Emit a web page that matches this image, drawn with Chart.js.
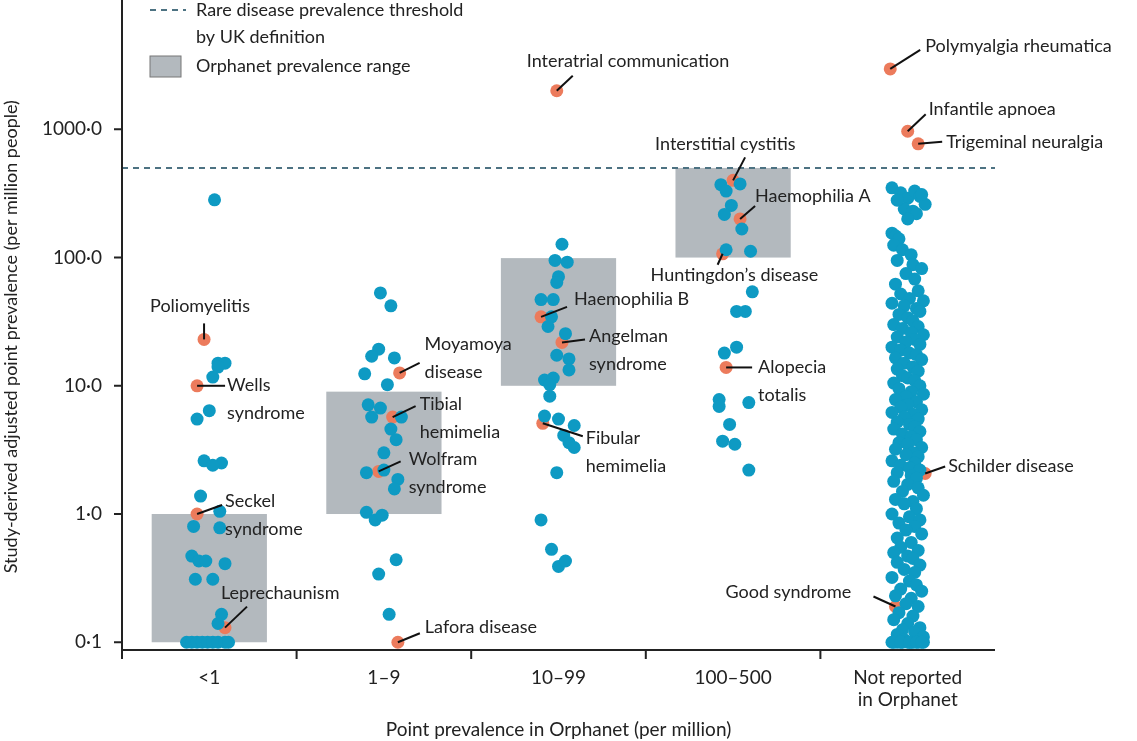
<!DOCTYPE html>
<html>
<head>
<meta charset="utf-8">
<script src="https://cdn.jsdelivr.net/npm/chart.js@4"></script>
<style>
  html, body { margin: 0; padding: 0; background: #fff; }
  #wrap { width: 1137px; height: 741px; }
</style>
</head>
<body>
<div id="wrap"><canvas id="chart"></canvas></div>
<script>
const categories = ['<1', '1–9', '10–99', '100–500', ['Not reported', 'in Orphanet']];
const yTickValues = [0.1, 1, 10, 100, 1000];
const yTickLabels = ['0·1', '1·0', '10·0', '100·0', '1000·0'];
const threshold = 500;

// Orphanet ranges per category [low, high]
const orphanetRanges = [[0.1, 1], [1, 9], [10, 99], [100, 500]];

// jitter offsets (x) and prevalence (y), per category
const cat0X = [0.03, 0.05, 0.09, 0.02, 0.05, 0.0, -0.07, -0.03, 0.07, 0.02, -0.05, 0.06, -0.09, 0.06, -0.1, -0.06, -0.02, 0.09, -0.08, 0.02, 0.07, 0.05, -0.13, -0.1, -0.07, -0.04, -0.01, 0.02, 0.05, 0.09, 0.11];
const cat0Y = [282, 15, 15, 11.7, 14, 6.4, 5.5, 2.6, 2.5, 2.4, 1.38, 1.05, 0.8, 0.78, 0.47, 0.43, 0.43, 0.41, 0.31, 0.31, 0.165, 0.14, 0.1, 0.1, 0.1, 0.1, 0.1, 0.1, 0.1, 0.1, 0.1];
const cat1X = [-0.02, 0.04, -0.03, -0.07, 0.06, -0.11, 0.02, -0.09, -0.02, -0.07, 0.1, 0.04, 0.07, 0.0, -0.1, 0.0, 0.08, 0.06, -0.1, -0.05, -0.01, 0.07, -0.03, 0.03];
const cat1Y = [53, 42, 19.3, 17, 16.5, 12.4, 10.2, 7.1, 6.7, 5.7, 5.7, 4.6, 3.8, 3.0, 2.1, 2.2, 1.86, 1.57, 1.03, 0.9, 0.98, 0.44, 0.34, 0.165];
const cat2X = [0.02, -0.02, 0.05, 0.0, -0.01, -0.1, -0.03, -0.04, -0.06, 0.04, -0.01, 0.06, 0.06, -0.08, -0.03, -0.05, -0.05, -0.08, 0.0, 0.09, 0.03, 0.06, 0.09, -0.01, -0.1, -0.04, 0.0, 0.04];
const cat2Y = [127, 95, 92, 71, 64, 47, 47, 34.5, 29, 25.5, 17.3, 16.2, 13.3, 11.1, 11.5, 10.2, 8.3, 5.8, 5.5, 4.9, 4.1, 3.6, 3.3, 2.1, 0.9, 0.53, 0.39, 0.43];
const cat3X = [-0.07, 0.04, -0.04, -0.01, -0.05, 0.05, -0.04, 0.1, 0.11, 0.02, 0.07, 0.02, -0.05, -0.08, -0.08, 0.09, -0.02, -0.06, 0.01, 0.09];
const cat3Y = [370, 375, 330, 255, 217, 167, 115, 112, 54, 38, 38, 20, 18, 7.8, 6.9, 7.4, 5.0, 3.7, 3.5, 2.2];
const cat4X = [-0.09, -0.04, 0.0, 0.04, 0.07, 0.1, -0.02, 0.03, 0.08, -0.06, 0.05, 0.0,
  -0.09, -0.07, -0.05, -0.08, -0.03, 0.02, -0.06, 0.03, 0.08, -0.01, 0.04, -0.07, 0.06, -0.04, 0.01, 0.09, -0.09, -0.02, 0.05, 0.07,
  -0.05, 0.0, 0.03, -0.08, 0.06, -0.03, 0.02, 0.09, -0.06, 0.04, -0.01, 0.07, -0.09, -0.04, 0.01, 0.05, -0.07, 0.08, -0.02, 0.03,
  -0.06, 0.06, -0.03, 0.0, 0.04, -0.08, 0.07, -0.05, 0.02, 0.09, -0.01, -0.07, 0.05, 0.0, -0.04, 0.08, -0.09, 0.03, -0.02, 0.06,
  -0.06, 0.01, 0.04, -0.08, 0.07, -0.03, 0.02, 0.05, -0.05, 0.0, 0.08, -0.07, 0.03, -0.01, 0.06, -0.09, 0.04, -0.04, 0.01, 0.07,
  -0.06, 0.02, 0.05, -0.08, 0.0, 0.06, -0.03, 0.09, -0.07, 0.03, -0.02, 0.05, -0.09, 0.01, 0.07, -0.05, 0.04, -0.01, 0.08, -0.06,
  0.02, -0.04, 0.06, -0.08, 0.0, 0.03, -0.06, 0.07, -0.02, 0.04, -0.09, 0.01, 0.05, -0.04, 0.08, -0.07, 0.02, -0.01, 0.06, -0.05,
  0.03, -0.08, 0.0, 0.07, -0.03, 0.04, -0.06, 0.09, -0.02, 0.02, -0.09, -0.06, -0.03, 0.0, 0.03, 0.06, 0.09, -0.08, -0.04, 0.01, 0.05, 0.08];
const cat4Y = [350, 320, 290, 330, 300, 260, 240, 230, 310, 280, 220, 200,
  155, 148, 140, 125, 115, 105, 95, 88, 82, 75, 68, 62, 55, 52, 48, 46, 44, 42, 40, 38,
  36, 34, 32, 30, 29, 28, 26, 25, 24, 23, 22, 21, 20, 19, 18, 17.5, 16.5, 16, 15, 14,
  13.5, 13, 12, 11.5, 11, 10.5, 10, 9.5, 9, 8.6, 8.2, 7.8, 7.5, 7.1, 6.8, 6.5, 6.2, 6.0, 5.7, 5.5,
  5.2, 5.0, 4.8, 4.6, 4.4, 4.2, 4.0, 3.8, 3.6, 3.5, 3.3, 3.2, 3.0, 2.9, 2.8, 2.6, 2.5, 2.4, 2.3, 2.2,
  2.1, 2.0, 1.9, 1.8, 1.7, 1.6, 1.5, 1.4, 1.3, 1.25, 1.2, 1.1, 1.0, 0.95, 0.9, 0.85, 0.8, 0.75, 0.7, 0.65,
  0.6, 0.55, 0.52, 0.5, 0.47, 0.45, 0.42, 0.4, 0.37, 0.35, 0.32, 0.3, 0.28, 0.26, 0.25, 0.23, 0.22, 0.2, 0.19, 0.17,
  0.16, 0.15, 0.14, 0.13, 0.125, 0.12, 0.115, 0.11, 0.105, 0.1, 0.1, 0.1, 0.1, 0.1, 0.1, 0.1, 0.1, 0.1, 0.1, 0.1, 0.1, 0.1];

// highlighted diseases: category, jitter, prevalence
const highlightNames = ['Poliomyelitis', 'Wells syndrome', 'Seckel syndrome', 'Leprechaunism',
  'Moyamoya disease', 'Tibial hemimelia', 'Wolfram syndrome', 'Lafora disease',
  'Interatrial communication', 'Haemophilia B', 'Angelman syndrome', 'Fibular hemimelia',
  'Interstitial cystitis', 'Haemophilia A', "Huntingdon's disease", 'Alopecia totalis',
  'Polymyalgia rheumatica', 'Infantile apnoea', 'Trigeminal neuralgia', 'Schilder disease', 'Good syndrome'];
const highlightX = [-0.03, -0.07, -0.07, 0.09, 0.09, 0.05, -0.03, 0.08, -0.01, -0.1, 0.02, -0.09, 0.0, 0.04, -0.06, -0.04, -0.1, 0.0, 0.06, 0.1, -0.07];
const highlightCat = [0, 0, 0, 0, 1, 1, 1, 1, 2, 2, 2, 2, 3, 3, 3, 3, 4, 4, 4, 4, 4];
const highlightY = [23, 10, 1.0, 0.13, 12.6, 5.7, 2.15, 0.1, 2000, 34.5, 21.8, 5.1, 400, 200, 107, 13.9, 2960, 966, 771, 2.07, 0.19];

// label layout: text lines, text offset from point (px), leader end offset
const labelLines = [['Poliomyelitis'], ['Wells', 'syndrome'], ['Seckel', 'syndrome'], ['Leprechaunism'],
  ['Moyamoya', 'disease'], ['Tibial', 'hemimelia'], ['Wolfram', 'syndrome'], ['Lafora disease'],
  ['Interatrial communication'], ['Haemophilia B'], ['Angelman', 'syndrome'], ['Fibular', 'hemimelia'],
  ['Interstitial cystitis'], ['Haemophilia A'], ['Huntingdon’s disease'], ['Alopecia', 'totalis'],
  ['Polymyalgia rheumatica'], ['Infantile apnoea'], ['Trigeminal neuralgia'], ['Schilder disease'], ['Good syndrome']];
const labelText = [[-54, -33], [30, -1], [28, -13], [-4, -34], [25, -29], [27, -13], [30, -12], [27, -15],
  [-30, -30], [33, -18], [27, -6], [43, 15], [-78, -36], [15, -23], [-72, 21], [32, 0],
  [35, -23], [21, -22], [28, -2], [23, -7], [-170, -14]];
const labelLead = [[0, -16], [28, 0], [25, -9], [22, -21], [20, -10], [23, -11], [22, -10], [22, -9],
  [16, -15], [26, -10], [23, -3], [40, 13], [12, -23], [15, -13], [-5, 11], [26, 0],
  [30, -19], [18, -17], [24, -2], [20, -7], [-22, -10]];

const blue = '#0e9ac3';
const orange = '#ec7b5c';
const fontFamily = 'Lato, "Noto Sans", sans-serif';

function pts(cat, xs, ys) {
  return ys.map((y, i) => ({ x: cat + xs[i], y: y }));
}

const bluePoints = [].concat(pts(0, cat0X, cat0Y), pts(1, cat1X, cat1Y), pts(2, cat2X, cat2Y), pts(3, cat3X, cat3Y), pts(4, cat4X, cat4Y));
const orangePoints = highlightY.map((y, i) => ({ x: highlightCat[i] + highlightX[i], y: y }));

const backgroundPlugin = {
  id: 'background',
  beforeDatasetsDraw(chart) {
    const { ctx, chartArea, scales: { x, y } } = chart;
    ctx.save();
    ctx.fillStyle = '#b3b9be';
    orphanetRanges.forEach((r, i) => {
      const x0 = x.getPixelForValue(i - 0.33), x1 = x.getPixelForValue(i + 0.33);
      const y0 = y.getPixelForValue(r[1]), y1 = y.getPixelForValue(r[0]);
      ctx.fillRect(x0, y0, x1 - x0, y1 - y0);
    });
    // threshold
    const ty = y.getPixelForValue(threshold);
    ctx.strokeStyle = '#4d7282';
    ctx.lineWidth = 2;
    ctx.setLineDash([6, 5]);
    ctx.beginPath();
    ctx.moveTo(chartArea.left, ty);
    ctx.lineTo(chartArea.right, ty);
    ctx.stroke();
    ctx.setLineDash([]);
    // axes and ticks
    ctx.strokeStyle = '#222';
    ctx.lineWidth = 2;
    ctx.beginPath();
    ctx.moveTo(chartArea.left, 0);
    ctx.lineTo(chartArea.left, chartArea.bottom);
    ctx.lineTo(chartArea.right, chartArea.bottom);
    yTickValues.forEach(v => {
      const py = y.getPixelForValue(v);
      ctx.moveTo(chartArea.left - 8, py);
      ctx.lineTo(chartArea.left, py);
    });
    for (let i = 0; i <= 4; i++) {
      const px = x.getPixelForValue(i - 0.5);
      ctx.moveTo(px, chartArea.bottom);
      ctx.lineTo(px, chartArea.bottom + 9);
    }
    ctx.stroke();
    ctx.restore();
  },
  afterDatasetsDraw(chart) {
    const { ctx, scales: { x, y } } = chart;
    ctx.save();
    ctx.font = '18px ' + fontFamily;
    ctx.fillStyle = '#222';
    ctx.strokeStyle = '#111';
    ctx.lineWidth = 2;
    ctx.textBaseline = 'middle';
    highlightY.forEach((v, i) => {
      const px = x.getPixelForValue(highlightCat[i] + highlightX[i]);
      const py = y.getPixelForValue(v);
      ctx.beginPath();
      ctx.moveTo(px, py);
      ctx.lineTo(px + labelLead[i][0], py + labelLead[i][1]);
      ctx.stroke();
      labelLines[i].forEach((t, j) => {
        ctx.fillText(t, px + labelText[i][0], py + labelText[i][1] + j * 28);
      });
    });
    // legend
    ctx.strokeStyle = '#4d7282';
    ctx.setLineDash([6, 5]);
    ctx.beginPath();
    ctx.moveTo(150, 10);
    ctx.lineTo(186, 10);
    ctx.stroke();
    ctx.setLineDash([]);
    ctx.fillStyle = '#b3b9be';
    ctx.fillRect(150, 56, 31, 21);
    ctx.strokeStyle = '#777';
    ctx.lineWidth = 1;
    ctx.strokeRect(150, 56, 31, 21);
    ctx.fillStyle = '#222';
    ctx.fillText('Rare disease prevalence threshold', 196, 10);
    ctx.fillText('by UK definition', 196, 37);
    ctx.fillText('Orphanet prevalence range', 196, 66);
    ctx.restore();
  }
};

new Chart(document.getElementById('chart'), {
  type: 'scatter',
  data: {
    datasets: [
      { data: bluePoints, backgroundColor: blue, borderWidth: 0, pointRadius: 6.5 },
      { data: orangePoints, backgroundColor: orange, borderWidth: 0, pointRadius: 6.5 }
    ]
  },
  options: {
    responsive: true,
    maintainAspectRatio: false,
    animation: false,
    layout: { padding: { top: -19, right: 142, left: 0, bottom: 0 } },
    plugins: { legend: { display: false }, tooltip: { enabled: false } },
    scales: {
      x: {
        type: 'linear',
        min: -0.5,
        max: 4.5,
        grid: { display: false },
        border: { display: false },
        afterBuildTicks(scale) { scale.ticks = categories.map((c, i) => ({ value: i })); },
        afterFit(scale) { scale.height = 91; },
        ticks: {
          color: '#222',
          font: { family: fontFamily, size: 19 },
          padding: 8,
          maxRotation: 0,
          callback: (v) => categories[v]
        },
        title: {
          display: true,
          text: 'Point prevalence in Orphanet (per million)',
          color: '#222',
          font: { family: fontFamily, size: 19 },
          padding: { top: 2, bottom: 0 }
        }
      },
      y: {
        type: 'logarithmic',
        min: 0.087,
        max: 6700,
        grid: { display: false },
        border: { display: false },
        afterBuildTicks(scale) { scale.ticks = yTickValues.map(v => ({ value: v })); },
        afterFit(scale) { scale.width = 122; },
        ticks: {
          color: '#222',
          font: { family: fontFamily, size: 19 },
          padding: 12,
          callback: (v) => yTickLabels[yTickValues.indexOf(v)]
        },
        title: {
          display: true,
          text: 'Study-derived adjusted point prevalence (per million people)',
          color: '#222',
          font: { family: fontFamily, size: 18 },
          padding: { top: 0, bottom: 4 }
        }
      }
    }
  },
  plugins: [backgroundPlugin]
});
</script>
</body>
</html>
